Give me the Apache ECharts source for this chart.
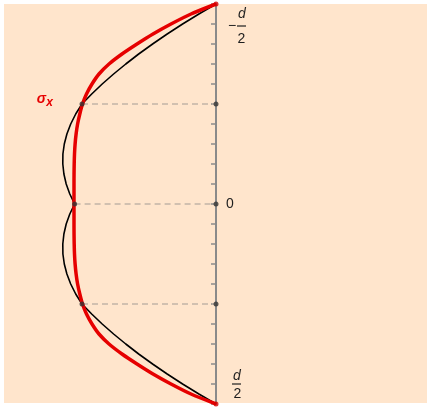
<!DOCTYPE html>
<html>
<head>
<meta charset="utf-8">
<script src="https://cdn.jsdelivr.net/npm/echarts@6/dist/echarts.min.js"></script>
<style>
  html, body { margin: 0; padding: 0; background: #ffffff; }
  #bg { position: absolute; left: 4px; top: 4px; width: 423px; height: 399px; background: #FFE5CC; }
  #chart { position: absolute; left: 0; top: 0; width: 430px; height: 407px; }
</style>
</head>
<body>
<div id="bg"></div>
<div id="chart"></div>
<script>
// depth coordinate z in units of d/20 (-10 = -d/2 at top, 10 = d/2 at bottom)
const zValues = [-10, -9.5, -9, -8.5, -8, -7.5, -7, -6.5, -6, -5.5, -5,
  -4.5, -4, -3.5, -3, -2.5, -2, -1.5, -1, -0.5, 0,
  0.5, 1, 1.5, 2, 2.5, 3, 3.5, 4, 4.5, 5,
  5.5, 6, 6.5, 7, 7.5, 8, 8.5, 9, 9.5, 10];

// black curve (approximate sigma_x)
const blackSigma = [0, -0.171, -0.334, -0.488, -0.634, -0.773, -0.902, -1.024, -1.138, -1.243, -1.34,
  -1.403, -1.453, -1.491, -1.517, -1.531, -1.532, -1.521, -1.498, -1.462, -1.414,
  -1.462, -1.498, -1.521, -1.532, -1.531, -1.517, -1.491, -1.453, -1.403, -1.34,
  -1.243, -1.138, -1.024, -0.902, -0.773, -0.634, -0.488, -0.334, -0.171, 0];

// red curve (sigma_x)
const redSigma = [0, -0.25, -0.45, -0.63, -0.79, -0.94, -1.07, -1.17, -1.24, -1.295, -1.335,
  -1.362, -1.384, -1.399, -1.409, -1.415, -1.418, -1.4195, -1.42, -1.42, -1.42,
  -1.42, -1.42, -1.4195, -1.418, -1.415, -1.409, -1.399, -1.384, -1.362, -1.335,
  -1.295, -1.24, -1.17, -1.07, -0.94, -0.79, -0.63, -0.45, -0.25, 0];

// dashed reference levels and their left end values
const dashZ = [-5, 0, 5];
const dashSigma = [-1.34, -1.414, -1.34];
const redEndZ = [-10, 10];

const chart = echarts.init(document.getElementById('chart'), null, { renderer: 'canvas' });

const pair = (xs, zs) => xs.map((v, i) => [v, zs[i]]);

const series = [];
dashZ.forEach((z, i) => {
  series.push({
    type: 'line', silent: true, symbol: 'none', z: 1,
    data: [[dashSigma[i], z], [0, z]],
    lineStyle: { color: '#c2b4a6', width: 1.5, type: [6, 4] }
  });
});
series.push({
  type: 'line', name: 'black', symbol: 'none', smooth: false, z: 3,
  data: pair(blackSigma, zValues),
  lineStyle: { color: '#000000', width: 1.6 }
});
series.push({
  type: 'line', name: 'red', symbol: 'none', smooth: 0.25, z: 4,
  data: pair(redSigma, zValues),
  lineStyle: { color: '#e60000', width: 3.5 }
});
series.push({
  type: 'scatter', symbolSize: 5, z: 5, clip: false,
  itemStyle: { color: '#333333' },
  data: pair(dashSigma, dashZ).concat(dashZ.map(z => [0, z]))
});
series.push({
  type: 'scatter', symbolSize: 5, z: 6, clip: false,
  itemStyle: { color: '#d40000' },
  data: redEndZ.map(z => [0, z])
});

const txtFont = '14px "Liberation Sans", Arial, sans-serif';
const itFont = 'italic 14px "Liberation Sans", Arial, sans-serif';
const txt = (x, y, text, font, fill) => ({
  type: 'text', x: x, y: y, z: 100,
  style: { text: text, font: font, fill: fill || '#1e1e1e', align: 'center', verticalAlign: 'middle',
           textAlign: 'center', textVerticalAlign: 'middle' }
});
const bar = (x1, x2, y) => ({
  type: 'line', z: 100, shape: { x1: x1, y1: y, x2: x2, y2: y },
  style: { stroke: '#1e1e1e', lineWidth: 1.2 }
});

chart.setOption({
  animation: false,
  backgroundColor: 'transparent',
  grid: { left: 0, right: 0, top: 4, bottom: 3, containLabel: false, outerBoundsMode: 'none' },
  xAxis: {
    type: 'value', min: -2.16, max: 2.14, show: false,
    axisLine: { onZero: false }, splitLine: { show: false }
  },
  yAxis: {
    type: 'value', min: -10, max: 10, interval: 1, inverse: true,
    axisLine: { show: true, onZero: true, lineStyle: { color: '#8a8a8a', width: 2 } },
    axisTick: { show: true, length: 5, lineStyle: { color: '#8a8a8a', width: 1.5 } },
    axisLabel: { show: false },
    splitLine: { show: false }
  },
  series: series,
  graphic: [
    txt(232, 26, '\u2212', txtFont),
    bar(237, 246, 26),
    txt(242, 14, 'd', itFont),
    txt(241.5, 39.5, '2', txtFont),
    txt(230, 204.5, '0', txtFont),
    bar(232, 241, 384),
    txt(237, 376, 'd', itFont),
    txt(237.5, 394, '2', txtFont),
    txt(41.5, 99, '\u03c3', 'italic bold 14px "Liberation Sans", Arial, sans-serif', '#e60000'),
    txt(49.5, 102.5, 'x', 'italic bold 12px "Liberation Sans", Arial, sans-serif', '#e60000')
  ]
});
</script>
</body>
</html>
